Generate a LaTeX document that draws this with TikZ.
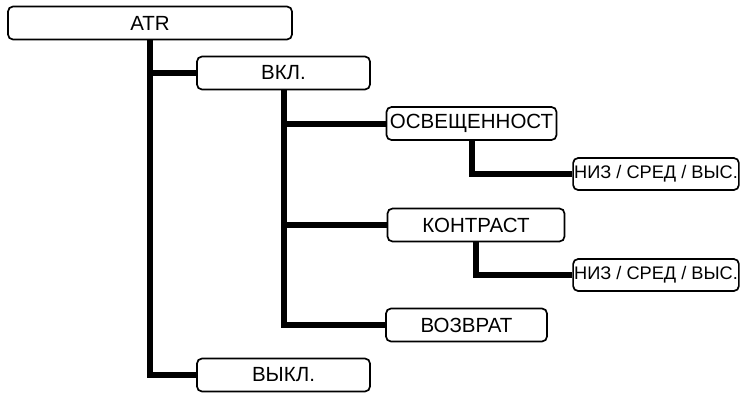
\documentclass[tikz,border=0pt]{standalone}
\usepackage{fontspec}
\setmainfont{Liberation Sans}
\begin{document}
\begin{tikzpicture}[
            x=1pt, y=-1pt,
            box/.style={rectangle, rounded corners=5pt, draw, line width=1.7pt, fill=white,
                        inner sep=1pt, minimum height=33pt, font=\fontsize{20.5}{22}\selectfont},
            level/.style={box, minimum width=163pt, minimum height=32pt, font=\fontsize{18.2}{20}\selectfont},
            tree/.style={line width=6pt},
            ]
            \useasboundingbox (0,0) rectangle (740,392);
            \node (ATR) [box, minimum width=284pt] at (150,23) {ATR};
            \node (On) [box, minimum width=173pt] at (283.5,73) {ВКЛ.};
            \node (Light) [box, minimum width=170pt] at (471.5,123.5) {ОСВЕЩЕННОСТ};
            \node (Lvl1) [level] at (656,174) {НИЗ / СРЕД / ВЫС.};
            \node (Contrast) [box, minimum width=177pt] at (476,225) {КОНТРАСТ};
            \node (Lvl2) [level] at (656,275) {НИЗ / СРЕД / ВЫС.};
            \node (Back) [box, minimum width=161pt] at (466.5,325) {ВОЗВРАТ};
            \node (Off) [box, minimum width=173pt] at (283.5,375) {ВЫКЛ.};

            \begin{scope}[on background layer/.try]
            \draw[tree] (ATR.south) |- (Off.west);
            \draw[tree] (ATR.south |- On.west) -- (On.west);
            \draw[tree] (On.south) |- (Back.west);
            \draw[tree] (On.south |- Light.west) -- (Light.west);
            \draw[tree] (On.south |- Contrast.west) -- (Contrast.west);
            \draw[tree] (Light.south) |- (Lvl1.west);
            \draw[tree] (Contrast.south) |- (Lvl2.west);
            \end{scope}
        \end{tikzpicture}
\end{document}
